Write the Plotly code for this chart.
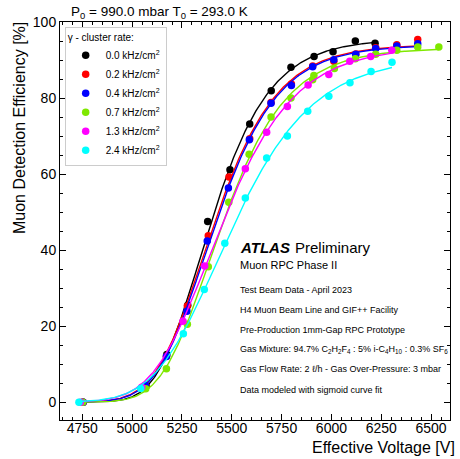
import numpy as np
import plotly.graph_objects as go

# ---------------- data ----------------
labels = ["0.0 kHz/cm<sup>2</sup>", "0.2 kHz/cm<sup>2</sup>", "0.4 kHz/cm<sup>2</sup>",
          "0.7 kHz/cm<sup>2</sup>", "1.3 kHz/cm<sup>2</sup>", "2.4 kHz/cm<sup>2</sup>"]
colors = ["#000000", "#ff0000", "#0000ff", "#7fe800", "#ff00ff", "#00ffff"]

v_00 = [4754, 5070, 5174, 5279, 5379, 5491, 5590, 5698, 5797, 5913, 6008, 6120, 6219]
e_00 = [0.0, 4.2, 12.5, 25.5, 47.5, 61.1, 73.2, 81.9, 88.1, 90.9, 92.2, 95.0, 94.4]

v_02 = [4754, 5068, 5172, 5277, 5382, 5486, 5590, 5697, 5799, 5906, 6012, 6122, 6222, 6328, 6433]
e_02 = [0.0, 4.3, 12.1, 25.3, 43.8, 59.2, 69.3, 78.8, 83.7, 88.4, 89.7, 91.6, 93.2, 94.0, 95.4]

v_04 = [4754, 5066, 5172, 5275, 5377, 5483, 5588, 5697, 5799, 5906, 6012, 6122, 6222, 6328, 6433]
e_04 = [0.0, 4.4, 12.0, 23.9, 42.4, 56.3, 69.0, 78.6, 83.3, 88.2, 90.1, 91.5, 93.0, 93.7, 94.3]

v_07 = [4752, 5068, 5172, 5277, 5382, 5485, 5587, 5697, 5797, 5906, 5912, 6015, 6120, 6222, 6328, 6433, 6539]
e_07 = [0.0, 3.5, 8.8, 20.5, 35.6, 52.6, 65.2, 75.0, 80.0, 84.8, 85.9, 87.8, 90.3, 91.5, 92.6, 93.4, 93.4]

v_13 = [4740, 5048, 5255, 5364, 5568, 5675, 5779, 5883, 5987, 6092, 6197, 6303]
e_13 = [0.0, 3.9, 21.3, 35.8, 61.4, 71.0, 77.8, 83.4, 86.2, 89.7, 90.9, 92.6]

v_24 = [4733, 5043, 5257, 5362, 5465, 5568, 5675, 5779, 5881, 5987, 6093, 6199, 6304]
e_24 = [0.0, 3.6, 18.0, 29.6, 41.8, 53.7, 64.2, 70.0, 76.5, 80.5, 84.0, 87.0, 89.4]

series_v = [v_00, v_02, v_04, v_07, v_13, v_24]
series_e = [e_00, e_02, e_04, e_07, e_13, e_24]

x_ticks = [4750, 5000, 5250, 5500, 5750, 6000, 6250, 6500]
y_ticks = [0, 20, 40, 60, 80, 100]


def sigmoid_fit(v, e):
    """Least-squares fit of E = A / (1 + exp(-(V - V0)/k))**m (A solved linearly)."""
    v = np.asarray(v, float)
    e = np.asarray(e, float)
    best = None
    v0g = np.arange(5000.0, 5800.0, 2.0)
    kg = np.arange(30.0, 400.0, 2.0)
    V0, K = np.meshgrid(v0g, kg, indexing="ij")
    for m in [1.0, 1.5, 2.0, 3.0, 4.0, 6.0, 8.0]:
        f = (1.0 + np.exp(-(v[None, None, :] - V0[..., None]) / K[..., None])) ** (-m)
        fe = (f * e).sum(-1)
        ff = (f * f).sum(-1)
        sse = (e * e).sum() - fe ** 2 / ff
        i, j = np.unravel_index(np.argmin(sse), sse.shape)
        if best is None or sse[i, j] < best[0]:
            best = (sse[i, j], fe[i, j] / ff[i, j], v0g[i], kg[j], m)
    return best[1:]


FONT = "Liberation Sans, Arial, sans-serif"
fig = go.Figure()

for v, e, c, lab in zip(series_v, series_e, colors, labels):
    a, v0, k, m = sigmoid_fit(v, e)
    vv = np.linspace(min(v), max(v), 300)
    fig.add_trace(go.Scatter(x=vv, y=a * (1 + np.exp(-(vv - v0) / k)) ** (-m), mode="lines",
                             line=dict(color=c, width=1.4), showlegend=False,
                             hoverinfo="skip"))
    fig.add_trace(go.Scatter(x=v, y=e, mode="markers", name=lab,
                             marker=dict(color=c, size=7.5, symbol="circle")))

axis_common = dict(showline=True, linecolor="black", linewidth=1, mirror="allticks",
                   ticks="inside", ticklen=6, tickwidth=1, tickcolor="black",
                   showgrid=False, zeroline=False,
                   tickfont=dict(family=FONT, size=14, color="black"))

fig.update_xaxes(range=[4638, 6595], tickvals=x_ticks, ticklabelstandoff=-5,
                 minor=dict(dtick=50, tick0=4750, ticks="inside", ticklen=3,
                            tickcolor="black", showgrid=False),
                 **axis_common)
fig.update_yaxes(range=[-4.7, 100], tickvals=y_ticks,
                 minor=dict(dtick=5, tick0=0, ticks="inside", ticklen=3,
                            tickcolor="black", showgrid=False),
                 **axis_common)


def px_to_paper_y(py):
    return (420 - py) / 398.0


def px_to_paper_x(px):
    return (px - 60) / 390.0


ann = []
# axis titles
ann.append(dict(text="Effective Voltage [V]", xref="paper", yref="paper",
                x=px_to_paper_x(457), y=px_to_paper_y(447.5),
                xanchor="right", yanchor="middle", showarrow=False,
                font=dict(family=FONT, size=16, color="black")))
ann.append(dict(text="Muon Detection Efficiency [%]", xref="paper", yref="paper",
                x=px_to_paper_x(19), y=px_to_paper_y(20), xanchor="center", yanchor="top",
                textangle=-90, showarrow=False, font=dict(family=FONT, size=16, color="black")))
# top title
ann.append(dict(text="P<sub>0</sub> = 990.0 mbar T<sub>0</sub> = 293.0 K", xref="paper",
                yref="paper", x=px_to_paper_x(69), y=px_to_paper_y(12.5), xanchor="left",
                yanchor="middle", showarrow=False,
                font=dict(family=FONT, size=13.5, color="black")))

ann.append(dict(text="<b><i>ATLAS</i></b>", xref="paper", yref="paper",
                x=px_to_paper_x(238), y=px_to_paper_y(247.5), xanchor="left", yanchor="middle",
                showarrow=False, font=dict(family=FONT, size=15, color="black")))
ann.append(dict(text="Preliminary", xref="paper", yref="paper",
                x=px_to_paper_x(293), y=px_to_paper_y(247.5), xanchor="left", yanchor="middle",
                showarrow=False, font=dict(family=FONT, size=15, color="black")))
ann.append(dict(text="Muon RPC Phase II", xref="paper", yref="paper",
                x=px_to_paper_x(238), y=px_to_paper_y(265), xanchor="left", yanchor="middle",
                showarrow=False, font=dict(family=FONT, size=11, color="black")))

info_lines = [
    "Test Beam Data - April 2023",
    "H4 Muon Beam Line and GIF++ Facility",
    "Pre-Production 1mm-Gap RPC Prototype",
    "Gas Mixture: 94.7% C<sub>2</sub>H<sub>2</sub>F<sub>4</sub> : 5% i-C<sub>4</sub>H<sub>10</sub> : 0.3% SF<sub>6</sub>",
    "Gas Flow Rate: 2 ℓ/h - Gas Over-Pressure: 3 mbar",
    "Data modeled with sigmoid curve fit",
]
info_y = [290, 310, 329.5, 349, 369, 389.5]
for t, py in zip(info_lines, info_y):
    ann.append(dict(text=t, xref="paper", yref="paper", x=px_to_paper_x(238),
                    y=px_to_paper_y(py), xanchor="left", yanchor="middle", showarrow=False,
                    font=dict(family=FONT, size=9, color="black")))

fig.update_layout(
    width=460, height=459,
    margin=dict(l=60, r=10, t=22, b=39),
    paper_bgcolor="white", plot_bgcolor="white",
    font=dict(family=FONT, color="black"),
    annotations=ann,
    legend=dict(x=0.012, y=0.988, xanchor="left", yanchor="top",
                bgcolor="white", bordercolor="#cccccc", borderwidth=1,
                font=dict(family=FONT, size=10, color="black"),
                title=dict(text="γ - cluster rate:", font=dict(family=FONT, size=10, color="black")),
                itemwidth=30),
)

fig.write_html("out.html", config={"displayModeBar": False},
               post_script="document.body.style.margin='0px';")
